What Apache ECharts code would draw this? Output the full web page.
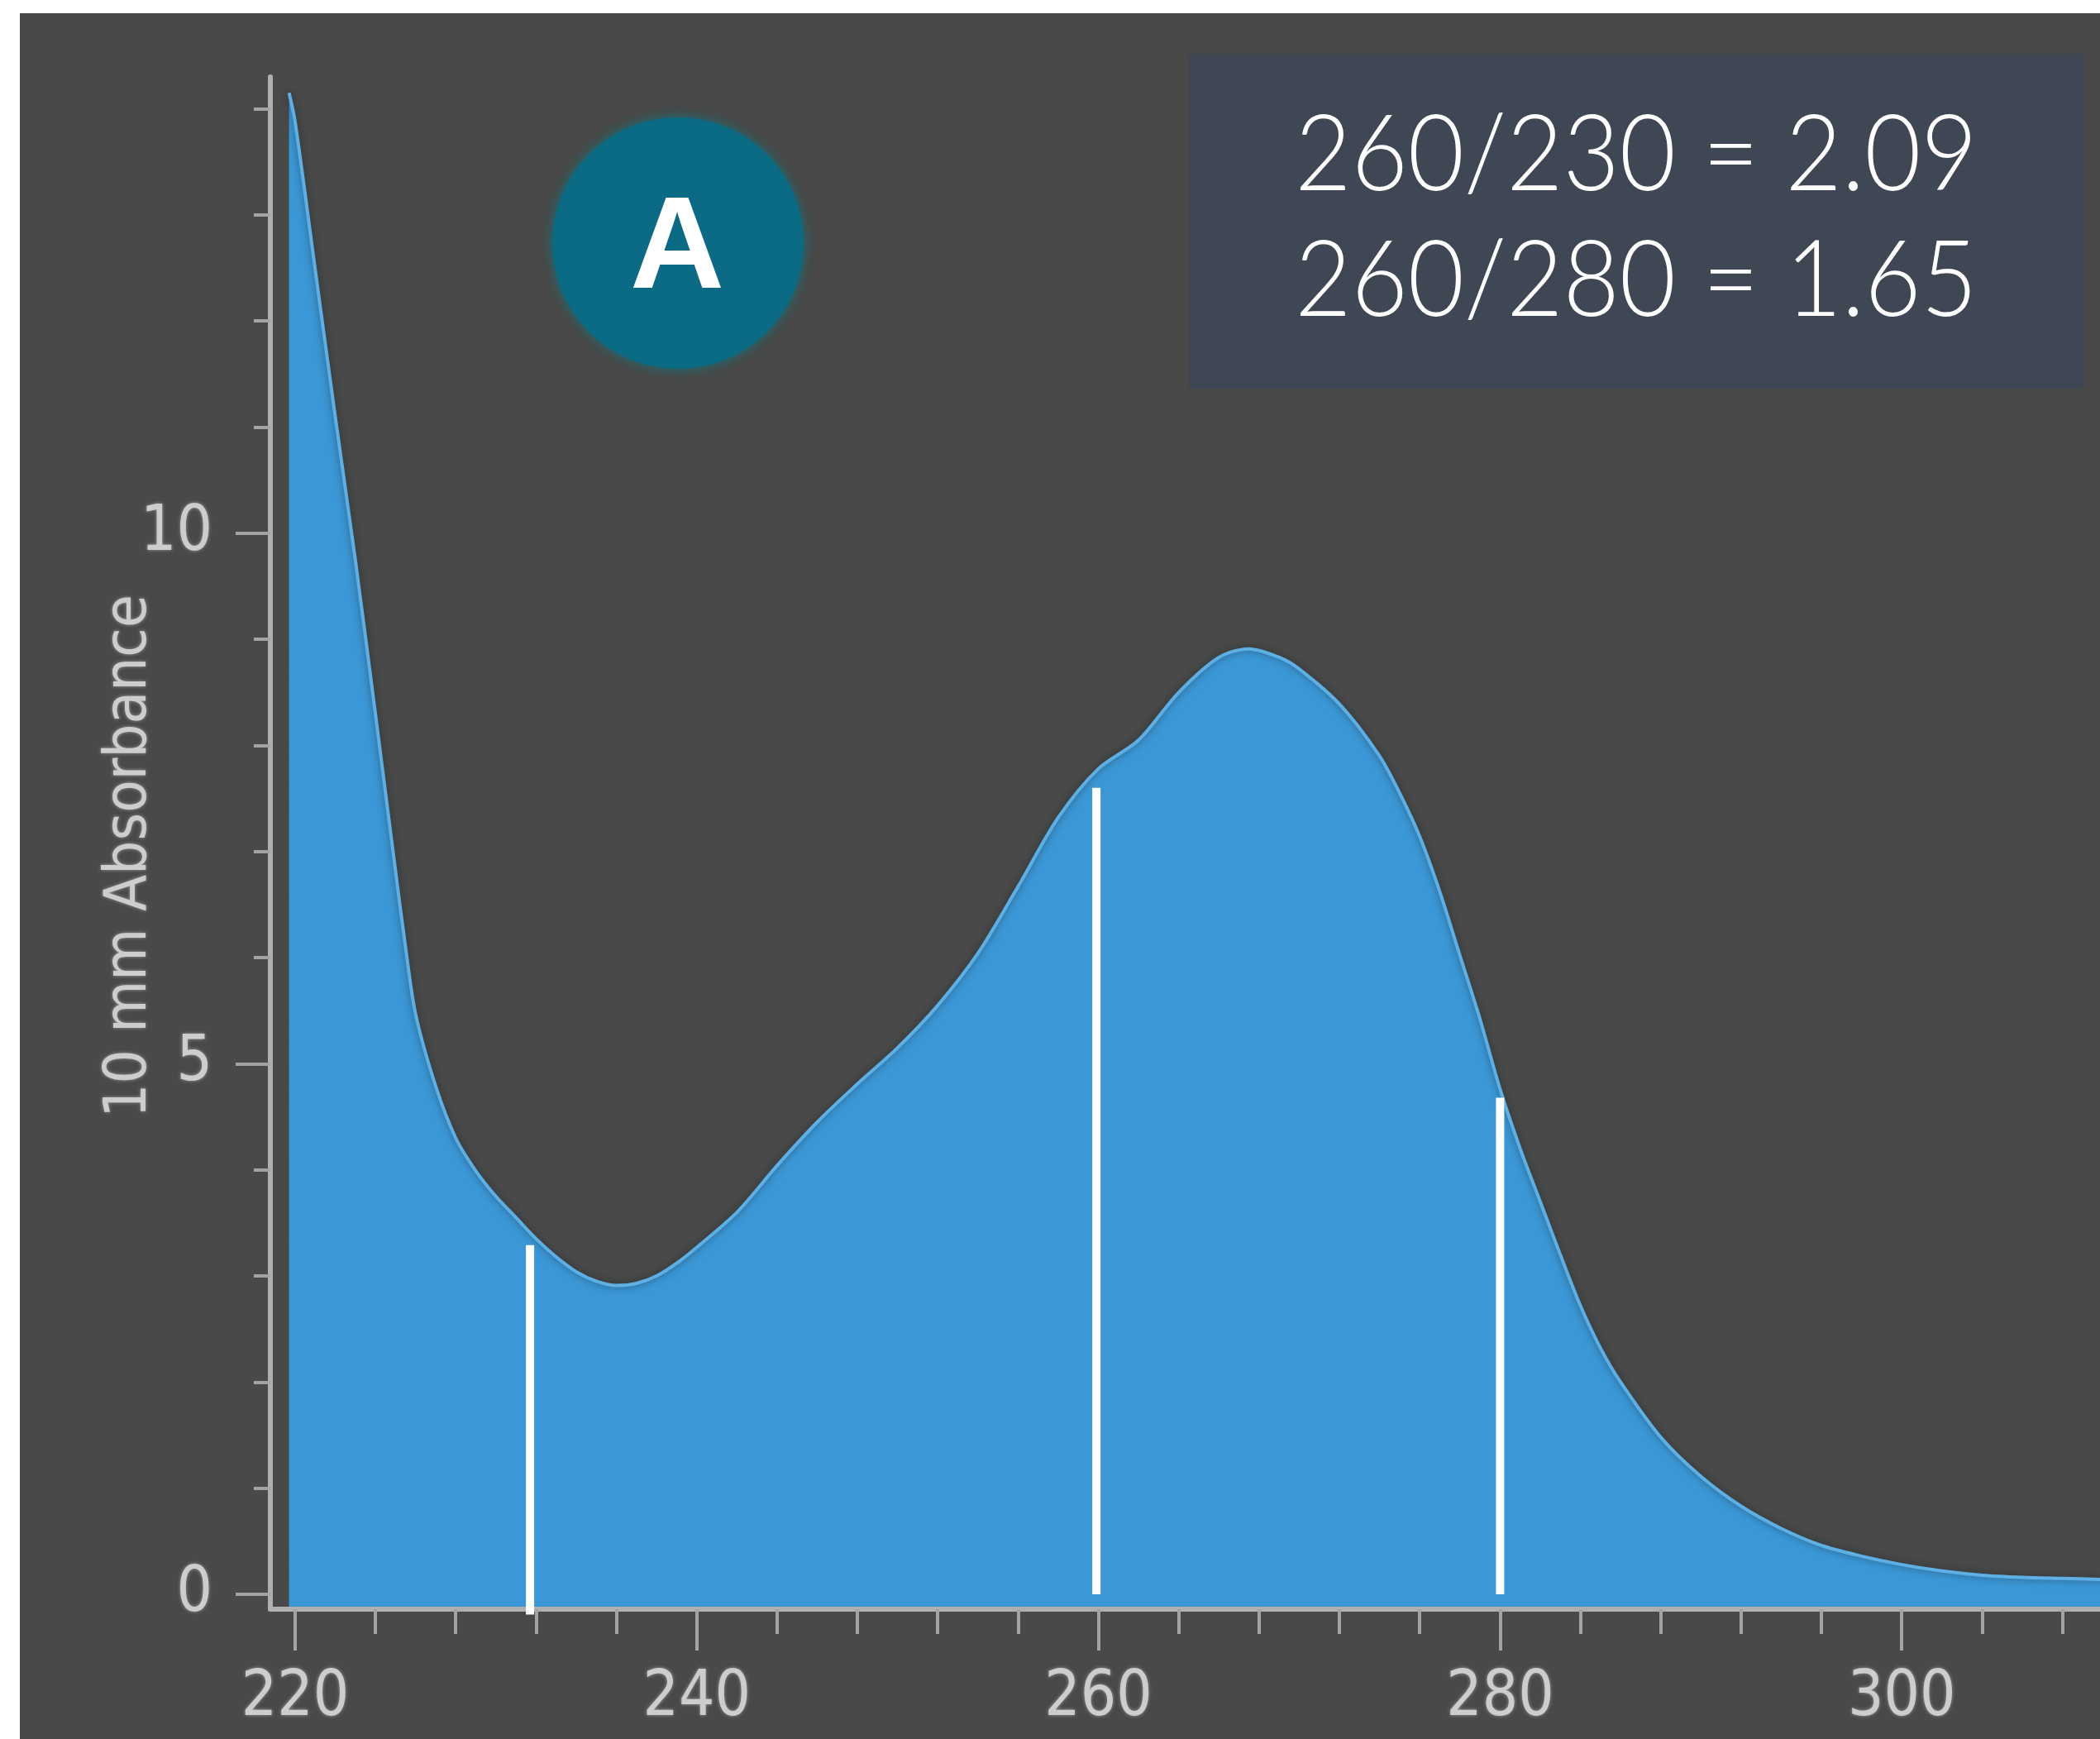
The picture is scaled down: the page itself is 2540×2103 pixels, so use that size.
<!DOCTYPE html>
<html>
<head>
<meta charset="utf-8">
<title>UV absorbance spectrum</title>
<script src="https://cdn.jsdelivr.net/npm/echarts@6/dist/echarts.min.js"></script>
<style>
  html, body { margin: 0; padding: 0; background: #ffffff; }
  body { width: 2540px; height: 2103px; position: relative; overflow: hidden; }
  #chart { position: absolute; left: 24px; top: 16px; width: 2516px; height: 2087px; background: #484948; }
</style>
</head>
<body>
<div id="chart"></div>
<script>
// Spectrum: wavelength (nm) and 10 mm absorbance
const wavelength = [
  219.7, 220, 221, 222, 223, 224, 225, 225.5, 226, 227, 228, 229, 230, 231, 232, 233, 234, 235, 236, 237,
  238, 239, 240, 242, 244, 246, 248, 250, 252, 254, 256, 258, 260, 262, 264, 266, 267.5, 269, 270, 272,
  274, 275, 276, 277, 278, 279, 280, 281, 282, 283, 284, 285, 286, 288, 290, 292, 294, 296, 298, 300,
  302, 304, 306, 308, 310
];
const absorbance = [
  14.15, 13.88, 12.49, 11.1, 9.75, 8.3, 6.82, 6.1, 5.47, 4.79, 4.3, 3.99, 3.75, 3.55, 3.35, 3.18, 3.04, 2.95, 2.91, 2.93,
  3.0, 3.12, 3.27, 3.6, 4.04, 4.45, 4.81, 5.15, 5.55, 6.04, 6.67, 7.32, 7.78, 8.05, 8.5, 8.83, 8.91, 8.83, 8.72, 8.39,
  7.9, 7.55, 7.14, 6.62, 6.02, 5.42, 4.76, 4.2, 3.7, 3.2, 2.72, 2.32, 2.0, 1.48, 1.11, 0.83, 0.62, 0.46, 0.36, 0.28,
  0.22, 0.18, 0.16, 0.15, 0.14
];

// White reading bars under the curve
const markerWavelength = [231.7, 259.9, 280.0];
const markerTop = [3.29, 7.60, 4.68];
const markerBase = [-0.19, 0, 0];

// Axis ticks
const xMajorTicks = [220, 240, 260, 280, 300];
const xMinorTicks = [224, 228, 232, 236, 244, 248, 252, 256, 264, 268, 272, 276, 284, 288, 292, 296, 304, 308];
const yMajorTicks = [0, 5, 10];
const yMinorTicks = [1, 2, 3, 4, 6, 7, 8, 9, 11, 12, 13, 14];

// Texts
const yAxisTitle = '10 mm Absorbance';
const panelLetter = 'A';
const ratioLines = ['260/230 = 2.09', '260/280 = 1.65'];

const X_MIN = 218.77, X_MAX = 309.87;
const Y_MIN = -0.14, Y_MAX = 14.3;

const axisGrey = '#b0b0b0';
const tickGrey = '#a3a3a3';
const labelGrey = '#cdcdcd';
const narrow = '"Liberation Sans Narrow", "DejaVu Sans Condensed", "Liberation Sans", sans-serif';

const labelStyle = {
  fontFamily: narrow,
  fontSize: 76,
  color: labelGrey,
  textShadowColor: 'rgba(205,205,205,0.6)',
  textShadowBlur: 4
};

const spectrum = wavelength.map((w, i) => [w, absorbance[i]]);
const markers = markerWavelength.map((w, i) => [w, markerBase[i], markerTop[i]]);

const chart = echarts.init(document.getElementById('chart'), null, { renderer: 'canvas' });

chart.setOption({
  animation: false,
  backgroundColor: '#484948',
  grid: { left: 303, top: 77, width: 2213, height: 1853 },
  xAxis: [
    {
      type: 'value', min: X_MIN, max: X_MAX, z: 3,
      axisLine: { show: true, onZero: false, lineStyle: { color: axisGrey, width: 6 } },
      axisTick: { show: true, customValues: xMajorTicks, length: 50, lineStyle: { color: tickGrey, width: 4 } },
      axisLabel: Object.assign({ customValues: xMajorTicks, margin: 70 }, labelStyle),
      splitLine: { show: false }
    },
    {
      type: 'value', min: X_MIN, max: X_MAX, z: 3, position: 'bottom',
      axisLine: { show: false, onZero: false },
      axisTick: { show: true, customValues: xMinorTicks, length: 30, lineStyle: { color: tickGrey, width: 4 } },
      axisLabel: { show: false },
      splitLine: { show: false }
    }
  ],
  yAxis: [
    {
      type: 'value', min: Y_MIN, max: Y_MAX, z: 3,
      name: yAxisTitle,
      nameLocation: 'middle',
      nameRotate: 90,
      nameGap: 134,
      nameMoveOverlap: false,
      nameTextStyle: Object.assign({}, labelStyle, { fontSize: 72, padding: [0, 32, 0, 0] }),
      axisLine: { show: true, onZero: false, lineStyle: { color: axisGrey, width: 6 } },
      axisTick: { show: true, customValues: yMajorTicks, length: 42, lineStyle: { color: tickGrey, width: 4 } },
      axisLabel: Object.assign({ customValues: yMajorTicks, margin: 70 }, labelStyle),
      splitLine: { show: false }
    },
    {
      type: 'value', min: Y_MIN, max: Y_MAX, z: 3, position: 'left',
      axisLine: { show: false, onZero: false },
      axisTick: { show: true, customValues: yMinorTicks, length: 20, lineStyle: { color: tickGrey, width: 4 } },
      axisLabel: { show: false },
      splitLine: { show: false }
    }
  ],
  series: [
    {
      name: 'absorbance',
      type: 'line',
      xAxisIndex: 0,
      yAxisIndex: 0,
      data: spectrum,
      showSymbol: false,
      smooth: 0.3,
      z: 2,
      lineStyle: { color: '#5eb0e4', width: 4, shadowColor: 'rgba(20,30,40,0.55)', shadowBlur: 8 },
      areaStyle: { color: '#3b97d5', opacity: 1, origin: 'start' }
    },
    {
      name: 'readings',
      type: 'custom',
      xAxisIndex: 0,
      yAxisIndex: 0,
      clip: false,
      z: 5,
      data: markers,
      encode: { x: 0, y: [1, 2] },
      renderItem: function (params, api) {
        const base = api.coord([api.value(0), api.value(1)]);
        const top = api.coord([api.value(0), api.value(2)]);
        return {
          type: 'rect',
          shape: { x: base[0] - 5, y: top[1], width: 10, height: base[1] - top[1] },
          style: { fill: '#ffffff' }
        };
      }
    }
  ],
  graphic: [
    {
      type: 'circle', z: 10,
      shape: { cx: 796, cy: 278, r: 152 },
      style: { fill: '#0b6b85', shadowColor: 'rgba(12,120,130,0.9)', shadowBlur: 14 }
    },
    {
      type: 'text', z: 11, x: 795, y: 288,
      style: {
        text: panelLetter, fill: '#ffffff', align: 'center', verticalAlign: 'middle',
        font: 'bold 158px "Liberation Sans", Arial, sans-serif',
        shadowColor: 'rgba(255,255,255,0.5)', shadowBlur: 4
      }
    },
    {
      type: 'rect', z: 10,
      shape: { x: 1414, y: 49, width: 1082, height: 405 },
      style: { fill: '#3f4754' }
    },
    {
      type: 'text', z: 11, x: 1955, y: 173, scaleX: 0.92,
      style: {
        text: ratioLines[0], fill: '#ffffff', align: 'center', verticalAlign: 'middle',
        font: '300 128px Lato, "Open Sans", sans-serif'
      }
    },
    {
      type: 'text', z: 11, x: 1955, y: 325, scaleX: 0.92,
      style: {
        text: ratioLines[1], fill: '#ffffff', align: 'center', verticalAlign: 'middle',
        font: '300 128px Lato, "Open Sans", sans-serif'
      }
    }
  ]
});
</script>
</body>
</html>
